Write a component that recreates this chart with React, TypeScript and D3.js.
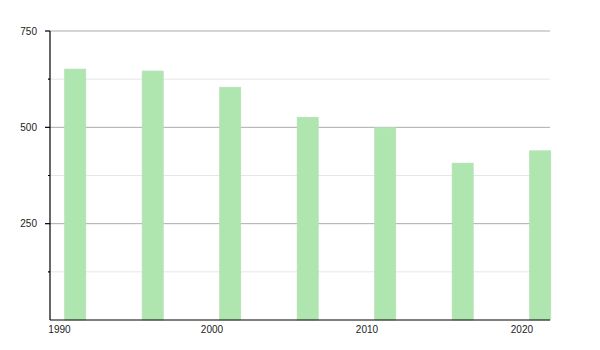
import React from "react";
import * as d3 from "d3";

const years = [1990, 1995, 2000, 2005, 2010, 2015, 2020];
const values = [651, 646, 604, 526, 499, 407, 439];
const xTickYears = [1990, 2000, 2010, 2020];
const yMajorTicks = [250, 500, 750];
const yMinorTicks = [125, 375, 625];

export default function App() {
  const W = 600, H = 350;
  const left = 50, right = 550, top = 31, bottom = 320;
  const x = d3.scaleLinear().domain([1989.55, 2021.81]).range([left, right]);
  const y = d3.scaleLinear().domain([0, 750]).range([bottom, top]);
  const barW = 21;
  const font = "'Liberation Sans', Arial, sans-serif";
  return (
    <svg width={W} height={H} style={{ position: "absolute", left: 0, top: 0, background: "#fff" }}>
      {yMinorTicks.map((t) => (
        <line key={"mg" + t} x1={left} x2={right} y1={y(t)} y2={y(t)} stroke="#e6e6e6" strokeWidth={1} />
      ))}
      {yMajorTicks.map((t) => (
        <line key={"g" + t} x1={left} x2={right} y1={y(t)} y2={y(t)} stroke="#ababab" strokeWidth={1} />
      ))}
      {years.map((yr, i) => (
        <rect
          key={yr}
          x={x(yr + 0.5)}
          y={y(values[i])}
          width={barW}
          height={y(0) - y(values[i])}
          fill="#afe6af"
          stroke="#b6dfb6"
          strokeWidth={0.8}
        />
      ))}
      <line x1={left} x2={left} y1={top} y2={bottom} stroke="#000" strokeWidth={1.2} />
      <line x1={left} x2={right} y1={bottom} y2={bottom} stroke="#000" strokeWidth={1.2} />
      {yMajorTicks.map((t) => (
        <g key={"yt" + t}>
          <line x1={left - 5} x2={left} y1={y(t)} y2={y(t)} stroke="#000" strokeWidth={1.2} />
          <text x={37} y={y(t)} dy="0.35em" textAnchor="end" fontFamily={font} fontSize={10} fill="#222">
            {t}
          </text>
        </g>
      ))}
      {yMinorTicks.map((t) => (
        <line key={"ymt" + t} x1={left - 2} x2={left} y1={y(t)} y2={y(t)} stroke="#000" strokeWidth={1.2} />
      ))}
      {xTickYears.map((t) => (
        <text key={"xt" + t} x={x(t) + (t === 1990 ? 2.5 : 0)} y={332.5} textAnchor="middle" fontFamily={font} fontSize={10} fill="#222">
          {t}
        </text>
      ))}
    </svg>
  );
}
